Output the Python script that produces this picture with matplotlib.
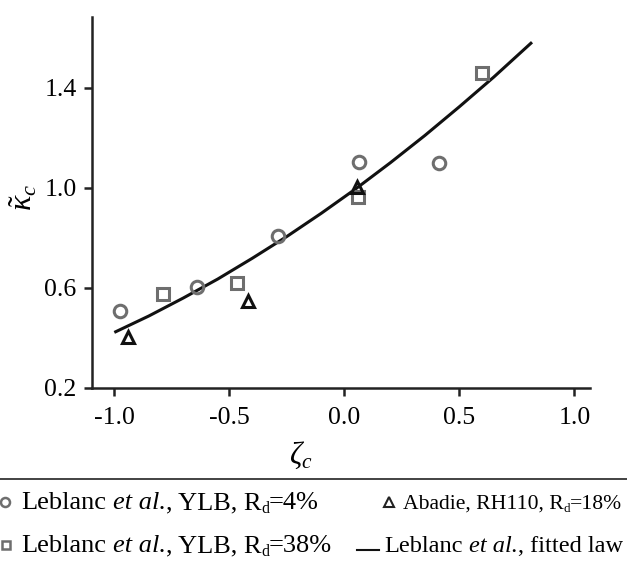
import numpy as np
import matplotlib
matplotlib.use('Agg')
import matplotlib.pyplot as plt

plt.rcParams['font.family'] = 'Liberation Serif'
plt.rcParams['mathtext.fontset'] = 'custom'
plt.rcParams['mathtext.rm'] = 'Liberation Serif'
plt.rcParams['mathtext.it'] = 'Liberation Serif:italic'

# Leblanc et al., YLB, Rd=4%
circ_x = [-0.975, -0.64, -0.287, 0.064, 0.413]
circ_y = [0.508, 0.604, 0.808, 1.105, 1.099]
# Leblanc et al., YLB, Rd=38%
sq_x = [-0.788, -0.467, 0.061, 0.60]
sq_y = [0.576, 0.620, 0.965, 1.461]
# Abadie, RH110, Rd=18%
tri_x = [-0.94, -0.419, 0.054]
tri_y = [0.404, 0.548, 1.005]
# fitted law
fit_x = [-0.994, -0.85, -0.70, -0.55, -0.40, -0.25, -0.10, 0.05, 0.20, 0.35, 0.50, 0.65, 0.811]
fit_y = [0.425, 0.488, 0.560, 0.636, 0.719, 0.806, 0.899, 0.997, 1.101, 1.210, 1.325, 1.444, 1.579]

xticks = [-1.0, -0.5, 0.0, 0.5, 1.0]
yticks = [0.2, 0.6, 1.0, 1.4]

gray = '#6e6e6e'

fig = plt.figure(figsize=(6.27, 5.63), dpi=100)
ax = fig.add_axes([92/627, 1-388/563, 498/627, 371/563])

ax.plot(fit_x, fit_y, '-', color='#111111', lw=2.2, zorder=2, solid_joinstyle='round')
ax.plot(circ_x, circ_y, 'o', ms=9, mfc='none', mec=gray, mew=2.2, zorder=3)
ax.plot(sq_x, sq_y, 's', ms=8, mfc='none', mec=gray, mew=2.2, zorder=3)
ax.plot(tri_x, tri_y, '^', ms=8, mfc='none', mec='#111111', mew=2.2, zorder=3)

ax.set_xlim(-1.097, 1.068)
ax.set_ylim(0.2, 1.684)
ax.set_xticks(xticks)
ax.set_xticklabels(['%.1f' % v for v in xticks])
ax.set_yticks(yticks)
ax.set_yticklabels(['%.1f' % v for v in yticks])
ax.tick_params(direction='out', length=6, width=1.8, labelsize=18.5, color='#222222')
ax.tick_params(axis='x', pad=8)
ax.tick_params(axis='y', pad=5)
for s in ['top', 'right']:
    ax.spines[s].set_visible(False)
for s in ['left', 'bottom']:
    ax.spines[s].set_linewidth(1.8)
    ax.spines[s].set_color('#222222')

ax.set_xlabel(r'$\zeta_c$', fontsize=22)
ax.xaxis.set_label_coords(0.42, -0.14)
ax.set_ylabel(r'$\tilde{\kappa}_c$', fontsize=23)
ax.yaxis.set_label_coords(-0.105, 0.515)

# separator line and legend below the plot
fig.add_artist(plt.Line2D([0, 1], [1-479/563, 1-479/563], color='#222222', lw=1.2))

lax = fig.add_axes([0, 0, 1, 1-481/563])
lax.set_xlim(0, 627)
lax.set_ylim(563, 481)
lax.axis('off')
renderer = fig.canvas.get_renderer()


def text_width(s, size, style='normal'):
    t = lax.text(0, 0, s, fontsize=size, style=style)
    w = t.get_window_extent(renderer=renderer).width
    t.remove()
    return w


def label(x, y, parts, size):
    # write a legend label piece by piece: (text, kind) with kind rm / it / sub / space
    for s, kind in parts:
        if kind == 'space':
            x += text_width('x x', size) - text_width('xx', size)
            continue
        fsz = size * 0.6 if kind == 'sub' else size
        dy = size * 0.22 if kind == 'sub' else 0
        style = 'italic' if kind == 'it' else 'normal'
        t = lax.text(x, y + dy, s, fontsize=fsz, style=style, va='baseline')
        x += t.get_window_extent(renderer=renderer).width


def leblanc(rest):
    return [('Leblanc', 'rm'), (' ', 'space'), ('et al.', 'it')] + rest


lax.plot([5], [502], 'o', ms=6.5, mfc='none', mec=gray, mew=1.8, clip_on=False)
label(21, 509, leblanc([(', YLB, R', 'rm'), ('d', 'sub'), ('=4%', 'rm')]), 19)
lax.plot([389], [502], '^', ms=6.5, mfc='none', mec='#222222', mew=1.5)
label(403, 509, [('Abadie, RH110, R', 'rm'), ('d', 'sub'), ('=18%', 'rm')], 15.6)
lax.plot([6], [545], 's', ms=6, mfc='none', mec=gray, mew=1.8, clip_on=False)
label(21, 552, leblanc([(', YLB, R', 'rm'), ('d', 'sub'), ('=38%', 'rm')]), 19)
lax.plot([357, 379], [550, 550], '-', color='#111111', lw=1.5)
label(384, 552, leblanc([(', fitted law', 'rm')]), 17.6)

fig.savefig('out.png', dpi=100)
